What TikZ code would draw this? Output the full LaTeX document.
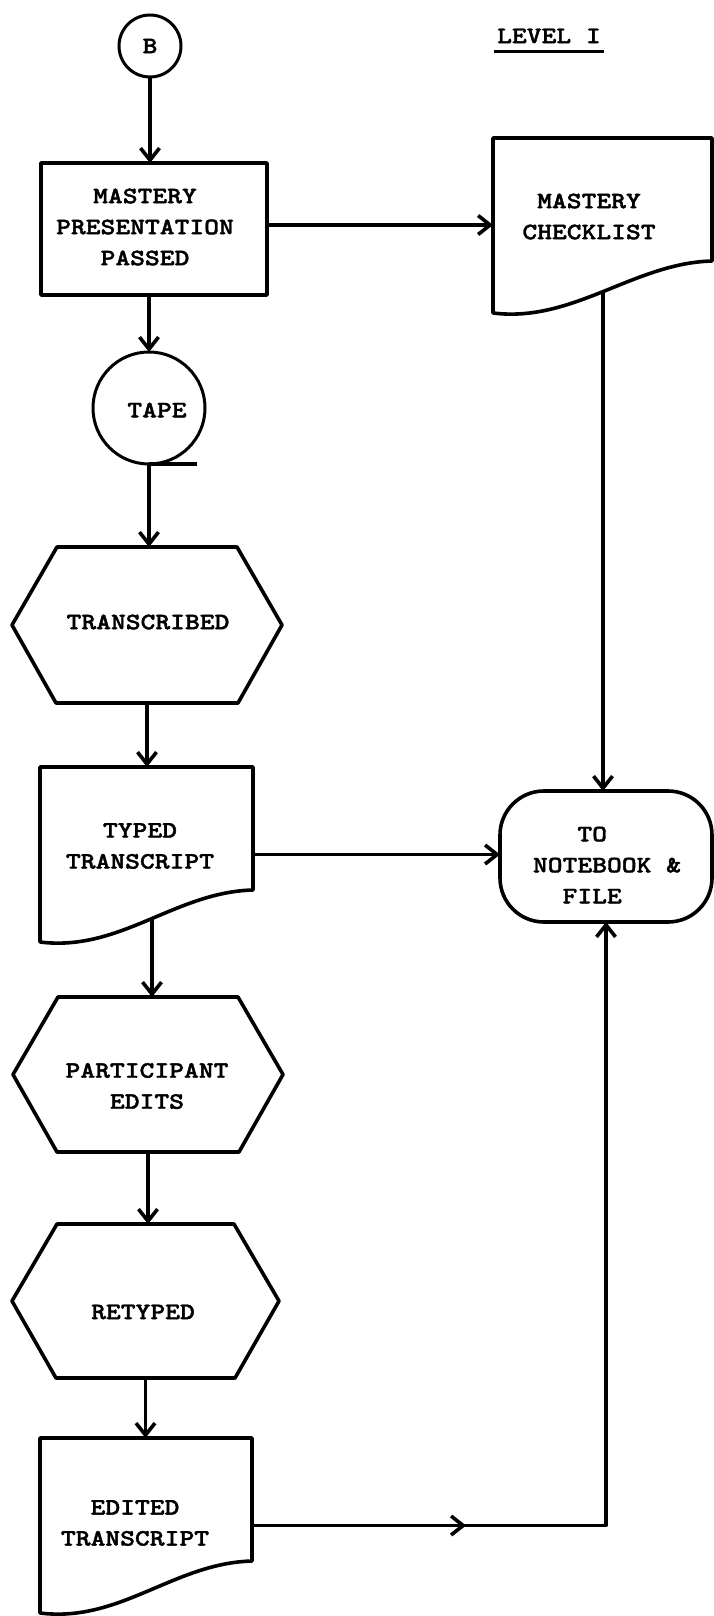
\documentclass[tikz,border=0pt]{standalone}
\usepackage{fontspec}
\newfontfamily\tw{lmmonolt10-bold.otf}[FakeStretch=1.2,FakeBold=1.6]
\usetikzlibrary{arrows.meta,calc,decorations.markings}

% document symbol: flat top, wavy bottom edge
\newcommand\docpath[1]{%
  \draw (#1.north west) -- (#1.north east) -- ($(#1.south east)+(0,-52)$)
    .. controls ($(#1.south east)+(-78,-50)$) and ($(#1.south west)+(80,10)$) .. (#1.south west)
    -- cycle;}
% flat hexagon with pointed sides
\newcommand\hexpath[1]{%
  \draw (#1.west) -- ($(#1.north west)+(45,0)$) -- ($(#1.north east)+(-45,0)$) -- (#1.east)
    -- ($(#1.south east)+(-44,0)$) -- ($(#1.south west)+(44,0)$) -- cycle;}

\begin{document}
\begin{tikzpicture}[x=1pt,y=-1pt,
  line width=3.6pt, line join=round,
  every node/.style={inner sep=0pt, outer sep=0pt},
  txt/.style={font=\tw\fontsize{23.5}{31}\selectfont, align=center},
  ghost/.style={draw=none},
  arr/.style={-{Straight Barb[length=12pt,width=19pt]}},
]
\useasboundingbox (0,0) rectangle (714,1616);

% connector B and heading
\node[circle, draw, line width=3pt, minimum size=62pt, font=\tw\fontsize{23.5}{31}\selectfont] (b) at (150,46) {B};
\node[txt] (level) at (549,36) {LEVEL I};
\draw[line width=2.6pt] ($(level.south west)+(-3,8)$) -- ($(level.south east)+(3,8)$);

% process box
\node[draw, minimum width=226pt, minimum height=132pt] (mastery) at (154,229) {};
\node[txt] (mastery-t) at (145,227) {MASTERY\\PRESENTATION\\PASSED};

% checklist document
\node[ghost, minimum width=219pt, minimum height=175pt] (checklist) at (602.5,225.5) {};
\docpath{checklist}
\node[txt] (checklist-t) at (589,216.5) {MASTERY\\CHECKLIST};
\coordinate (checklist-out) at ($(checklist.south west)+(110,-21)$);

% tape
\node[circle, draw, line width=3pt, minimum size=112pt] (tape) at (149,408) {};
\draw (tape.south) -- ++(48,0);
\node[txt] (tape-t) at (157,410) {TAPE};

% transcription step
\node[ghost, minimum width=270pt, minimum height=156pt] (transcribed) at (147,625) {};
\hexpath{transcribed}
\node[txt] (transcribed-t) at (148,622) {TRANSCRIBED};

% typed transcript document
\node[ghost, minimum width=213pt, minimum height=175pt] (typed) at (146.5,854.5) {};
\docpath{typed}
\node[txt] (typed-t) at (140,846) {TYPED\\TRANSCRIPT};
\coordinate (typed-out) at ($(typed.south west)+(112,-22)$);

% terminal
\node[draw, rounded corners=44pt, minimum width=212pt, minimum height=131pt] (notebook) at (606,856.5) {};
\node[txt, align=left] (notebook-t) at (607,865) {\hphantom{MMM}TO\\NOTEBOOK \&\\\hphantom{MM}FILE};

% editing steps
\node[ghost, minimum width=270pt, minimum height=155pt] (participant) at (148,1074.5) {};
\hexpath{participant}
\node[txt] (participant-t) at (147,1086) {PARTICIPANT\\EDITS};

\node[ghost, minimum width=267pt, minimum height=154pt] (retyped) at (145.5,1301) {};
\hexpath{retyped}
\node[txt] (retyped-t) at (143,1312) {RETYPED};

% edited transcript document
\node[ghost, minimum width=212pt, minimum height=175pt] (edited) at (146,1525.5) {};
\docpath{edited}
\node[txt] (edited-t) at (135,1523) {EDITED\\TRANSCRIPT};

% flow lines
\coordinate (mastery-out) at ([yshift=4pt]mastery.east);
\draw[arr] (b.south) -- (b.south |- mastery.north);
\draw[arr] (mastery-out) -- (mastery-out -| checklist.west);
\draw[arr] (tape.north |- mastery.south) -- (tape.north);
\draw[arr] (tape.south) -- (tape.south |- transcribed.north);
\draw[arr] (transcribed.south) -- (transcribed.south |- typed.north);
\draw[arr] (typed.east) -- (typed.east -| notebook.west);
\draw[arr] (checklist-out) -- (checklist-out |- notebook.north);
\draw[arr] (typed-out) -- (typed-out |- participant.north);
\draw[arr] (participant.south) -- (participant.south |- retyped.north);
\draw[arr] (retyped.south) -- (retyped.south |- edited.north);
\draw[arr, postaction=decorate,
  decoration={markings, mark=at position 214pt with {\arrow{Straight Barb[length=12pt,width=19pt]}}}]
  (edited.east) -| (notebook.south);
\end{tikzpicture}
\end{document}
